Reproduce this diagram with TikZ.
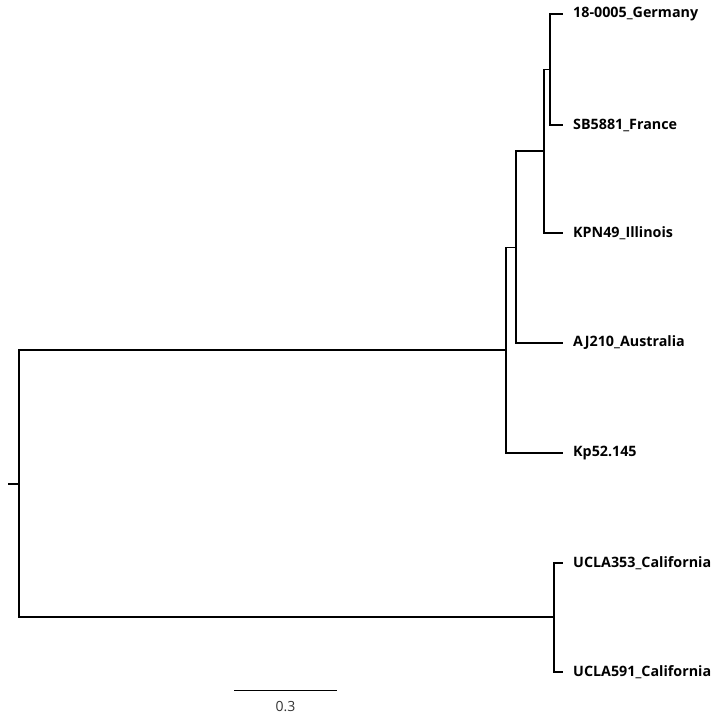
\documentclass[tikz,border=0pt]{standalone}
\usepackage{fontspec}
\setmainfont{Open Sans}
\usetikzlibrary{positioning}
\tikzset{
  branch/.style={line width=1.8pt, line join=miter},
  leaf/.style={anchor=west, inner sep=0pt, font=\bfseries\fontsize{14.3}{16}\selectfont},
  scalebar/.style={line width=1pt},
  scalelabel/.style={inner sep=0pt, font=\fontsize{14}{16}\selectfont, text=black!80},
}
\begin{document}
\begin{tikzpicture}[x=1pt, y=-1pt, node distance=10pt]
  \useasboundingbox (0,0) rectangle (714,717);
  % internal nodes
  \coordinate (stub) at (8,484);
  \coordinate (root) at (19,484);
  \coordinate (kleb) at (506,350);
  \coordinate (aus) at (516,247.5);
  \coordinate (ill) at (544,151);
  \coordinate (eur) at (550,69.5);
  \coordinate (cal) at (554,617);
  % tips
  \coordinate (tGer) at (563,14);
  \coordinate (tFra) at (563,125);
  \coordinate (tIll) at (563,233);
  \coordinate (tAus) at (563,343);
  \coordinate (tKp) at (563,453);
  \coordinate (tU353) at (563,563);
  \coordinate (tU591) at (563,672);
  % labels
  \node[leaf, right=of tGer] (lGer) {18-0005\_Germany};
  \node[leaf, right=of tFra] (lFra) {SB5881\_France};
  \node[leaf, right=of tIll] (lIll) {KPN49\_Illinois};
  \node[leaf, right=of tAus] (lAus) {AJ210\_Australia};
  \node[leaf, right=of tKp] (lKp) {Kp52.145};
  \node[leaf, right=of tU353] (lU353) {UCLA353\_California};
  \node[leaf, right=of tU591] (lU591) {UCLA591\_California};
  % branches
  \draw[branch] (stub) -- (root);
  \draw[branch] (root) |- (kleb);
  \draw[branch] (root) |- (cal);
  \draw[branch] (kleb) |- (aus);
  \draw[branch] (kleb) |- (tKp);
  \draw[branch] (aus) |- (ill);
  \draw[branch] (aus) |- (tAus);
  \draw[branch] (ill) |- (eur);
  \draw[branch] (ill) |- (tIll);
  \draw[branch] (eur) |- (tGer);
  \draw[branch] (eur) |- (tFra);
  \draw[branch] (cal) |- (tU353);
  \draw[branch] (cal) |- (tU591);
  % scale bar
  \coordinate (sbL) at (234,690);
  \coordinate (sbR) at (337,690);
  \coordinate (sbMid) at (285.5,690);
  \draw[scalebar] (sbL) -- (sbR);
  \node[scalelabel, below=11pt of sbMid] (sbText) {0.3};
\end{tikzpicture}
\end{document}
